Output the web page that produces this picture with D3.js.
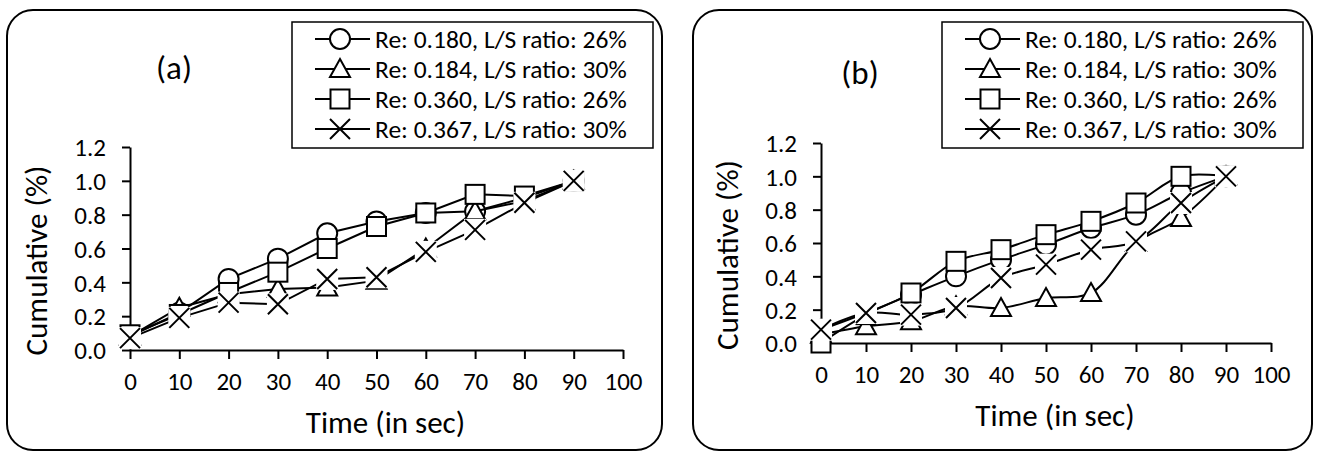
<!DOCTYPE html>
<html><head><meta charset="utf-8">
<script src="https://cdn.jsdelivr.net/npm/d3@7"></script>
<style>body{margin:0;background:#fff}svg{display:block}text{font-family:Carlito,Calibri,Lato,sans-serif;fill:#000}</style>
</head><body><svg id="c" width="1321" height="452"></svg>
<script>
const times = [0,10,20,30,40,50,60,70,80,90];
const xTicks = [0,10,20,30,40,50,60,70,80,90,100];
const yTicks = [0,0.2,0.4,0.6,0.8,1.0,1.2];
const seriesNames = ["Re: 0.180, L/S ratio: 26%","Re: 0.184, L/S ratio: 30%","Re: 0.360, L/S ratio: 26%","Re: 0.367, L/S ratio: 30%"];
const seriesMarkers = ["circle","triangle","square","cross"];
// Panel (a)
const a_re180 = [0.08,0.22,0.42,0.54,0.69,0.76,0.81,0.82,0.90,1.0];
const a_re184 = [0.08,0.25,0.33,0.36,0.37,0.41,0.60,0.82,0.88,1.0];
const a_re360 = [0.09,0.21,0.34,0.46,0.60,0.73,0.81,0.92,0.91,1.0];
const a_re367 = [0.07,0.19,0.28,0.27,0.42,0.43,0.58,0.71,0.87,1.0];
// Panel (b)
const b_re180 = [0.08,0.18,0.29,0.40,0.50,0.59,0.69,0.77,0.90,1.0];
const b_re184 = [0.05,0.10,0.13,0.22,0.21,0.27,0.30,0.60,0.75,1.0];
const b_re360 = [0.00,0.17,0.30,0.49,0.56,0.65,0.73,0.84,1.0,1.0];
const b_re367 = [0.08,0.18,0.17,0.21,0.39,0.47,0.56,0.61,0.84,1.0];

const svg = d3.select("#c");
const FONT = "Carlito,Calibri,Lato,sans-serif";

function marker(g, type, cx, cy, withBox){
  const s = 10;
  if(type==="circle") g.append("circle").attr("cx",cx).attr("cy",cy).attr("r",s).attr("fill","#fff").attr("stroke","#000").attr("stroke-width",2);
  else if(type==="square") g.append("rect").attr("x",cx-s+0.5).attr("y",cy-s+0.5).attr("width",2*s-1).attr("height",2*s-1).attr("fill","#fff").attr("stroke","#000").attr("stroke-width",2);
  else if(type==="triangle") g.append("path").attr("d",`M${cx},${cy-s}L${cx+s},${cy+s*0.8}L${cx-s},${cy+s*0.8}Z`).attr("fill","#fff").attr("stroke","#000").attr("stroke-width",2);
  else {
    if(withBox) g.append("rect").attr("x",cx-s-1).attr("y",cy-s-1).attr("width",2*s+2).attr("height",2*s+2).attr("fill","#fff");
    g.append("path").attr("d",`M${cx-s},${cy-s}L${cx+s},${cy+s}M${cx+s},${cy-s}L${cx-s},${cy+s}`).attr("stroke","#000").attr("stroke-width",2).attr("fill","none");
  }
}

function panel(cfg){
  const g = svg.append("g");
  g.append("rect").attr("x",cfg.bx0).attr("y",10).attr("width",cfg.bx1-cfg.bx0).attr("height",440)
    .attr("rx",26).attr("fill","none").attr("stroke","#000").attr("stroke-width",2);
  const x = d3.scaleLinear().domain([0,100]).range([cfg.px0,cfg.px1]);
  const y = d3.scaleLinear().domain([0,1.2]).range([cfg.py0,cfg.py1]);
  const xa = g.append("g").attr("transform",`translate(0,${cfg.py0})`)
    .call(d3.axisBottom(x).tickValues(xTicks).tickSize(9).tickSizeOuter(0).tickPadding(13).tickFormat(d3.format("d")));
  const ya = g.append("g").attr("transform",`translate(${cfg.px0},0)`)
    .call(d3.axisLeft(y).tickValues(yTicks).tickSize(8).tickSizeOuter(0).tickPadding(16).tickFormat(d3.format(".1f")));
  [xa,ya].forEach(a=>{a.selectAll("path,line").attr("stroke","#000").attr("stroke-width",2);
    a.selectAll("text").attr("font-size",25).attr("font-family",FONT).attr("fill","#000");});
  ya.selectAll(".tick text").attr("dy","0.35em");
  g.append("text").attr("x",(cfg.px0+cfg.px1)/2+9).attr("y",cfg.py0+83).attr("text-anchor","middle").attr("font-size",31).text("Time (in sec)");
  g.append("text").attr("transform",`translate(${cfg.px0-94},${(cfg.py0+cfg.py1)/2+12}) rotate(-90)`).attr("text-anchor","middle").attr("dy","0.35em").attr("font-size",31).text("Cumulative (%)");
  g.append("text").attr("x",cfg.lx).attr("y",cfg.ly).attr("text-anchor","middle").attr("dy","0.35em").attr("font-size",33).text(cfg.label);
  const line = d3.line().x((d,i)=>x(times[i])).y(d=>y(d)).curve(cfg.curve);
  cfg.series.forEach((vals,k)=>{
    const sg = g.append("g");
    sg.append("path").attr("d",line(vals)).attr("fill","none").attr("stroke","#000").attr("stroke-width",2);
    vals.forEach((v,i)=>marker(sg,seriesMarkers[k],x(times[i]),y(v),true));
  });
  // legend
  const lg = g.append("g");
  const lx0 = cfg.bx1-370, ly0 = 22;
  lg.append("rect").attr("x",lx0).attr("y",ly0).attr("width",361).attr("height",126).attr("fill","#fff").attr("stroke","#000").attr("stroke-width",1.5);
  seriesNames.forEach((n,k)=>{
    const cy = ly0+17+k*30;
    lg.append("line").attr("x1",lx0+23).attr("x2",lx0+78).attr("y1",cy).attr("y2",cy).attr("stroke","#000").attr("stroke-width",2);
    marker(lg,seriesMarkers[k],lx0+48,cy,false);
    lg.append("text").attr("x",lx0+83).attr("y",cy).attr("dy","0.35em").attr("font-size",25.5).text(n);
  });
}

panel({bx0:7,bx1:662,px0:130,px1:623,py0:350,py1:147,lx:174,ly:67,label:"(a)",curve:d3.curveLinear,
  series:[a_re180,a_re184,a_re360,a_re367]});
panel({bx0:693,bx1:1312,px0:821,px1:1271,py0:343,py1:143,lx:860,ly:72,label:"(b)",curve:d3.curveCatmullRom.alpha(0.5),
  series:[b_re180,b_re184,b_re360,b_re367]});
</script></body></html>
